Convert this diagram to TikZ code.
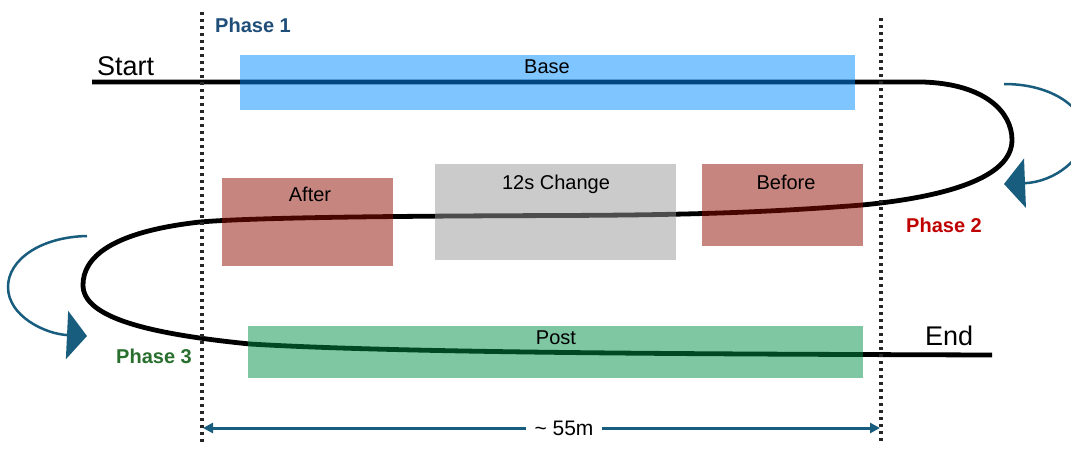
\documentclass[tikz,border=0pt]{standalone}
\usepackage{fontspec}
\setmainfont{Liberation Sans}
\usetikzlibrary{arrows.meta}
\definecolor{basec}{RGB}{0,140,255}
\definecolor{redc}{RGB}{145,12,0}
\definecolor{grayc}{RGB}{153,153,153}
\definecolor{greenc}{RGB}{0,142,72}
\definecolor{arrc}{RGB}{24,92,126}
\definecolor{phone}{RGB}{31,78,121}
\definecolor{phtwo}{RGB}{192,0,0}
\definecolor{phthree}{RGB}{40,110,45}
\begin{document}
\begin{tikzpicture}[x=1pt,y=-1pt,
  zone/.style={fill opacity=0.5, draw=none, inner sep=0pt, outer sep=0pt, anchor=north west},
  lbl/.style={font=\fontsize{20}{24}\selectfont, anchor=base, inner sep=0pt},
  bigl/.style={font=\fontsize{27}{31}\selectfont, anchor=base west, inner sep=0pt},
  phase/.style={font=\bfseries\fontsize{20}{24}\selectfont, anchor=base west, inner sep=0pt},
  track/.style={draw=black, line width=4.8pt},
  dotline/.style={draw=black!85, line width=3.2pt, dash pattern=on 3.2pt off 3.8pt},
  turn/.style={draw=arrc, line width=2.5pt},
  dim/.style={draw=arrc, line width=3pt, {Triangle[length=10pt,width=10pt]}-{Triangle[length=10pt,width=10pt]}}]
\clip (0,0) rectangle (1071,448);
\useasboundingbox (0,0) rectangle (1071,448);
\fill[white] (0,0) rectangle (1071,448);
% track
\coordinate (t0) at (92,82);
\coordinate (t1) at (923,82);
\coordinate (t2) at (992,355);
\draw[track] (t0) -- (t1) .. controls (985,84) and (1012,112) .. (1012,140)
  .. controls (1012,178) and (945,197) .. (862,205)
  .. controls (760,213) and (680,215) .. (560,215.5)
  .. controls (420,216) and (260,217) .. (200,222)
  .. controls (110,232) and (83,258) .. (83,285)
  .. controls (83,318) and (150,334) .. (250,344)
  .. controls (400,353) and (700,354) .. (t2);
% zones
\node[zone, fill=basec, minimum width=615pt, minimum height=55pt] (base) at (240,55) {};
\node[zone, fill=redc, minimum width=171pt, minimum height=88pt] (after) at (222,178) {};
\node[zone, fill=grayc, minimum width=241pt, minimum height=96pt] (change) at (435,164) {};
\node[zone, fill=redc, minimum width=161pt, minimum height=82pt] (before) at (702,164) {};
\node[zone, fill=greenc, minimum width=615pt, minimum height=52pt] (post) at (248,326) {};
% zone labels
\node[lbl] (basel) at (547,73) {Base};
\node[lbl] (afterl) at (310,201) {After};
\node[lbl] (changel) at (556,189) {12s Change};
\node[lbl] (beforel) at (786,189) {Before};
\node[lbl] (postl) at (556,344) {Post};
% start / end
\node[bigl] (start) at (97,75) {Start};
\node[bigl] (end) at (925,345) {End};
% dotted lines
\coordinate (la) at (202,12);
\coordinate (lb) at (202,442);
\coordinate (ra) at (881,18);
\coordinate (rb) at (881,442);
\draw[dotline] (la) -- (lb);
\draw[dotline] (ra) -- (rb);
% phases
\node[phase, text=phone] (ph1) at (215,32) {Phase 1};
\node[phase, text=phtwo] (ph2) at (906,232) {Phase 2};
\node[phase, text=phthree] (ph3) at (116,363) {Phase 3};
% turn arrows
\coordinate (rt0) at (1004,84);
\coordinate (rt1) at (1004,184);
\draw[turn, -{Triangle[length=21pt,width=49pt]}] (rt0) .. controls (1055,84) and (1085,110) .. (1085,133)
  .. controls (1085,158) and (1055,182) .. (rt1);
\coordinate (lt0) at (87,236);
\coordinate (lt1) at (87,336);
\draw[turn, -{Triangle[length=20pt,width=48pt]}] (lt0) .. controls (40,237) and (8,260) .. (8,287)
  .. controls (8,316) and (45,334) .. (lt1);
% dimension
\coordinate (da) at (203,428);
\coordinate (db) at (880,428);
\draw[dim] (da) -- (db);
\node[fill=white, inner xsep=9pt, inner ysep=6pt, font=\fontsize{21}{25}\selectfont] (diml) at (564,428) {\textasciitilde{} 55m};
\end{tikzpicture}
\end{document}
